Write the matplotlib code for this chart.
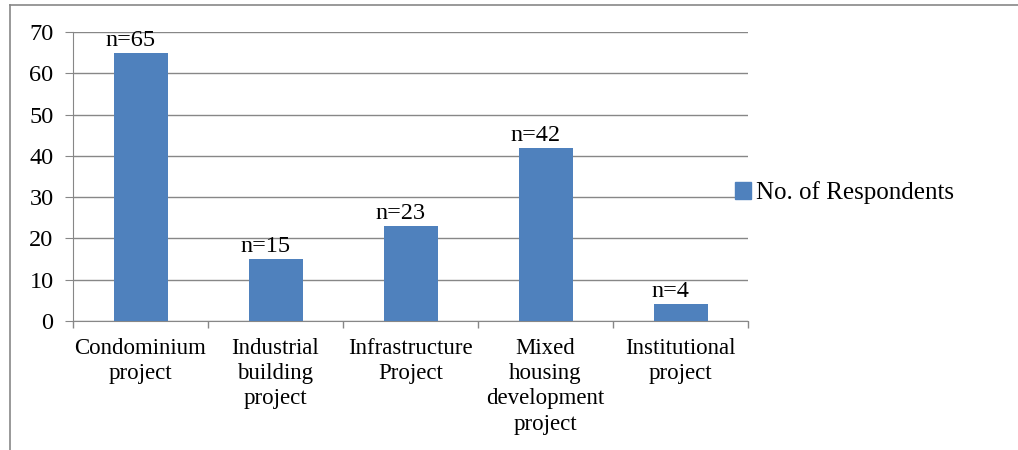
import matplotlib.pyplot as plt
import matplotlib.patches as mpatches
from matplotlib.lines import Line2D

categories = ['Condominium\nproject', 'Industrial\nbuilding\nproject',
              'Infrastructure\nProject', 'Mixed\nhousing\ndevelopment\nproject',
              'Institutional\nproject']
respondents = [65, 15, 23, 42, 4]
bar_labels = ['n=65', 'n=15', 'n=23', 'n=42', 'n=4']
series_name = 'No. of Respondents'

plt.rcParams['font.family'] = ['Liberation Serif', 'DejaVu Serif']
blue = '#4f81bd'
grey = '#878787'

fig = plt.figure(figsize=(10.18, 4.5), dpi=100)
ax = fig.add_axes([73/1018, 1-321/450, (748-73)/1018, (321-32)/450])

x = range(len(categories))
bars = ax.bar(x, respondents, width=0.4, color=blue, zorder=3)
# value labels sit a little left of the bar centre
for b, txt in zip(bars, bar_labels):
    ax.annotate(txt, (b.get_x() + b.get_width()/2, b.get_height()),
                xytext=(-7.5, 1.5), textcoords='offset points',
                ha='center', va='bottom', fontsize=17.5)

ax.set_xlim(-0.5, len(categories) - 0.5)
ax.set_ylim(0, 70)
ax.set_yticks(range(0, 71, 10))
ax.yaxis.grid(True, color=grey, linewidth=1, zorder=0)
ax.set_axisbelow(True)

ax.set_xticks(list(x))
ax.set_xticklabels(categories, fontsize=16.5, linespacing=1.27)
ax.tick_params(axis='x', length=0, pad=12)
ax.tick_params(axis='y', labelsize=17.5, length=6, color=grey, pad=8)
# boundary ticks between categories
ax.set_xticks([i - 0.5 for i in range(len(categories) + 1)], minor=True)
ax.tick_params(axis='x', which='minor', length=5, color=grey, width=1)

for s in ['top', 'right']:
    ax.spines[s].set_visible(False)
for s in ['left', 'bottom']:
    ax.spines[s].set_color(grey)

handle = mpatches.Patch(color=blue)
fig.legend([handle], [series_name], loc='center left',
           bbox_to_anchor=(735/1018, 1-193/450), frameon=False,
           fontsize=18, handlelength=0.65, handleheight=0.65,
           handletextpad=0.2, borderaxespad=0, borderpad=0)

# outer frame lines (left and top)
fig.add_artist(Line2D([10/1018, 10/1018], [0, 1-5/450], color=grey, lw=1.2,
                      transform=fig.transFigure))
fig.add_artist(Line2D([10/1018, 1], [1-5/450, 1-5/450], color=grey, lw=1.2,
                      transform=fig.transFigure))

fig.savefig('out.png', dpi=100)
